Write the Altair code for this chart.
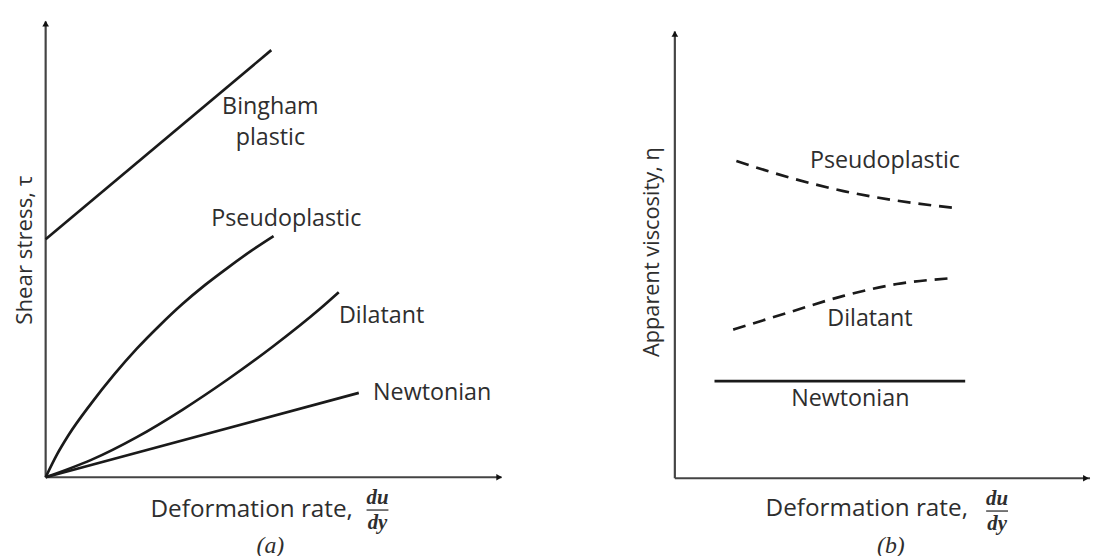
import altair as alt
import pandas as pd

# ---------------- Panel (a): shear stress vs deformation rate ----------------
bingham_x = [0.0, 4.95]
bingham_y = [5.22, 9.37]
pseudo_a_x = [0.0, 0.25, 0.5, 1.0, 1.5, 2.0, 2.5, 3.0, 3.5, 4.0, 4.5, 5.0]
pseudo_a_y = [0.0, 0.50, 0.92, 1.62, 2.25, 2.82, 3.33, 3.80, 4.22, 4.60, 4.96, 5.29]
dilat_a_x = [0.0, 1.0, 2.0, 3.0, 4.0, 5.0, 6.0, 6.43]
dilat_a_y = [0.0, 0.38, 0.88, 1.48, 2.15, 2.88, 3.68, 4.06]
newt_a_x = [0.0, 6.87]
newt_a_y = [0.0, 1.85]

labels_a = ["Bingham", "plastic", "Pseudoplastic", "Dilatant", "Newtonian"]
labels_a_x = [4.93, 4.93, 5.28, 7.37, 8.48]
labels_a_y = [8.12, 7.43, 5.67, 3.54, 1.85]

# ---------------- Panel (b): apparent viscosity vs deformation rate ----------------
pseudo_b_x = [1.35, 2.54, 3.70, 4.87, 6.15]
pseudo_b_y = [6.96, 6.59, 6.30, 6.09, 5.93]
dilat_b_x = [1.28, 2.54, 3.70, 4.87, 6.09]
dilat_b_y = [3.26, 3.65, 4.00, 4.26, 4.39]
newt_b_x = [0.87, 6.37]
newt_b_y = [2.13, 2.13]

labels_b = ["Pseudoplastic", "Dilatant", "Newtonian"]
labels_b_x = [4.61, 4.28, 3.85]
labels_b_y = [6.96, 3.50, 1.74]

x_title = "Deformation rate,"
y_title_a = "Shear stress, τ"
y_title_b = "Apparent viscosity, η"
caption_a = "(a)"
caption_b = "(b)"

SANS = "Open Sans"
SERIF = "Liberation Serif"
LINE_C = "#1a1a1a"
AXIS_C = "#444444"
TEXT_C = "#2e2e2e"
W, H = 546, 548


def line(xs, ys, sx, sy, dash=None, interp="monotone"):
    df = pd.DataFrame({"x": xs, "y": ys})
    kw = dict(color=LINE_C, strokeWidth=2.7, interpolate=interp)
    if dash:
        kw["strokeDash"] = dash
    return alt.Chart(df).mark_line(**kw).encode(
        x=alt.X("x:Q", scale=sx, axis=None),
        y=alt.Y("y:Q", scale=sy, axis=None),
    )


def texts(labels, xs, ys, sx, sy, size=23.5, font=SANS, angle=0, style=None, weight="normal", align="center"):
    df = pd.DataFrame({"t": labels, "x": xs, "y": ys})
    kw = dict(font=font, fontSize=size, color=TEXT_C, align=align, baseline="middle",
              angle=angle, fontWeight=weight)
    if style:
        kw["fontStyle"] = style
    return alt.Chart(df).mark_text(**kw).encode(
        x=alt.X("x:Q", scale=sx, axis=None),
        y=alt.Y("y:Q", scale=sy, axis=None),
        text="t:N",
    )


def axes(sx, sy, x_end, y_end, xa_arrow, ya_arrow):
    vr = pd.DataFrame({"x": [0.0], "y": [0.0], "y2": [y_end]})
    hr = pd.DataFrame({"x": [0.0], "x2": [x_end], "y": [0.0]})
    v = alt.Chart(vr).mark_rule(color=AXIS_C, strokeWidth=2.2).encode(
        x=alt.X("x:Q", scale=sx, axis=None), y=alt.Y("y:Q", scale=sy, axis=None), y2="y2:Q")
    h = alt.Chart(hr).mark_rule(color=AXIS_C, strokeWidth=2.2).encode(
        x=alt.X("x:Q", scale=sx, axis=None), x2="x2:Q", y=alt.Y("y:Q", scale=sy, axis=None))
    up = alt.Chart(pd.DataFrame({"x": [0.0], "y": [ya_arrow]})).mark_point(
        shape="triangle-up", filled=True, color="#111111", size=45, opacity=1).encode(
        x=alt.X("x:Q", scale=sx, axis=None), y=alt.Y("y:Q", scale=sy, axis=None))
    right = alt.Chart(pd.DataFrame({"x": [xa_arrow], "y": [0.0]})).mark_point(
        shape="triangle-right", filled=True, color="#111111", size=45, opacity=1).encode(
        x=alt.X("x:Q", scale=sx, axis=None), y=alt.Y("y:Q", scale=sy, axis=None))
    return [v, h, up, right]


def fraction(cx, sx, sy):
    t = texts(["du", "dy"], [cx, cx], [-0.45, -1.0], sx, sy, size=21, font=SERIF,
              style="italic", weight="bold")
    bar = alt.Chart(pd.DataFrame({"x": [cx - 0.24], "x2": [cx + 0.24], "y": [-0.72]})).mark_rule(
        color=TEXT_C, strokeWidth=1.3).encode(
        x=alt.X("x:Q", scale=sx, axis=None), x2="x2:Q", y=alt.Y("y:Q", scale=sy, axis=None))
    return [t, bar]


# scales (data units; the origin of each panel is at (0, 0))
xa = alt.Scale(domain=[-0.826, 11.043], nice=False, zero=False)
ya = alt.Scale(domain=[-1.674, 10.239], nice=False, zero=False)
xb = alt.Scale(domain=[-2.761, 9.109], nice=False, zero=False)
yb = alt.Scale(domain=[-1.652, 10.261], nice=False, zero=False)

panel_a = alt.layer(
    *axes(xa, ya, 10.0, 10.0, 9.95, 9.95),
    line(bingham_x, bingham_y, xa, ya, interp="linear"),
    line(pseudo_a_x, pseudo_a_y, xa, ya),
    line(dilat_a_x, dilat_a_y, xa, ya),
    line(newt_a_x, newt_a_y, xa, ya, interp="linear"),
    texts(labels_a, labels_a_x, labels_a_y, xa, ya),
    texts([y_title_a], [-0.46], [4.98], xa, ya, angle=270, size=22.5),
    texts([x_title], [6.74], [-0.72], xa, ya, align="right", size=24.5),
    *fraction(7.28, xa, ya),
    texts([caption_a], [4.93], [-1.50], xa, ya, size=24, font=SERIF, style="italic"),
).properties(width=W, height=H)

panel_b = alt.layer(
    *axes(xb, yb, 9.109, 9.8, 9.02, 9.75),
    line(pseudo_b_x, pseudo_b_y, xb, yb, dash=[13, 8]),
    line(dilat_b_x, dilat_b_y, xb, yb, dash=[13, 8]),
    line(newt_b_x, newt_b_y, xb, yb, interp="linear"),
    texts(labels_b, labels_b_x, labels_b_y, xb, yb),
    texts([y_title_b], [-0.5], [4.96], xb, yb, angle=270, size=22),
    texts([x_title], [6.43], [-0.68], xb, yb, align="right", size=24.5),
    *fraction(7.07, xb, yb),
    texts([caption_b], [4.74], [-1.48], xb, yb, size=24, font=SERIF, style="italic"),
).properties(width=W, height=H)

chart = alt.hconcat(panel_a, panel_b, spacing=0).properties(padding=0).configure_view(stroke=None)

chart.save("out.html", embed_options={"renderer": "svg", "actions": False})
